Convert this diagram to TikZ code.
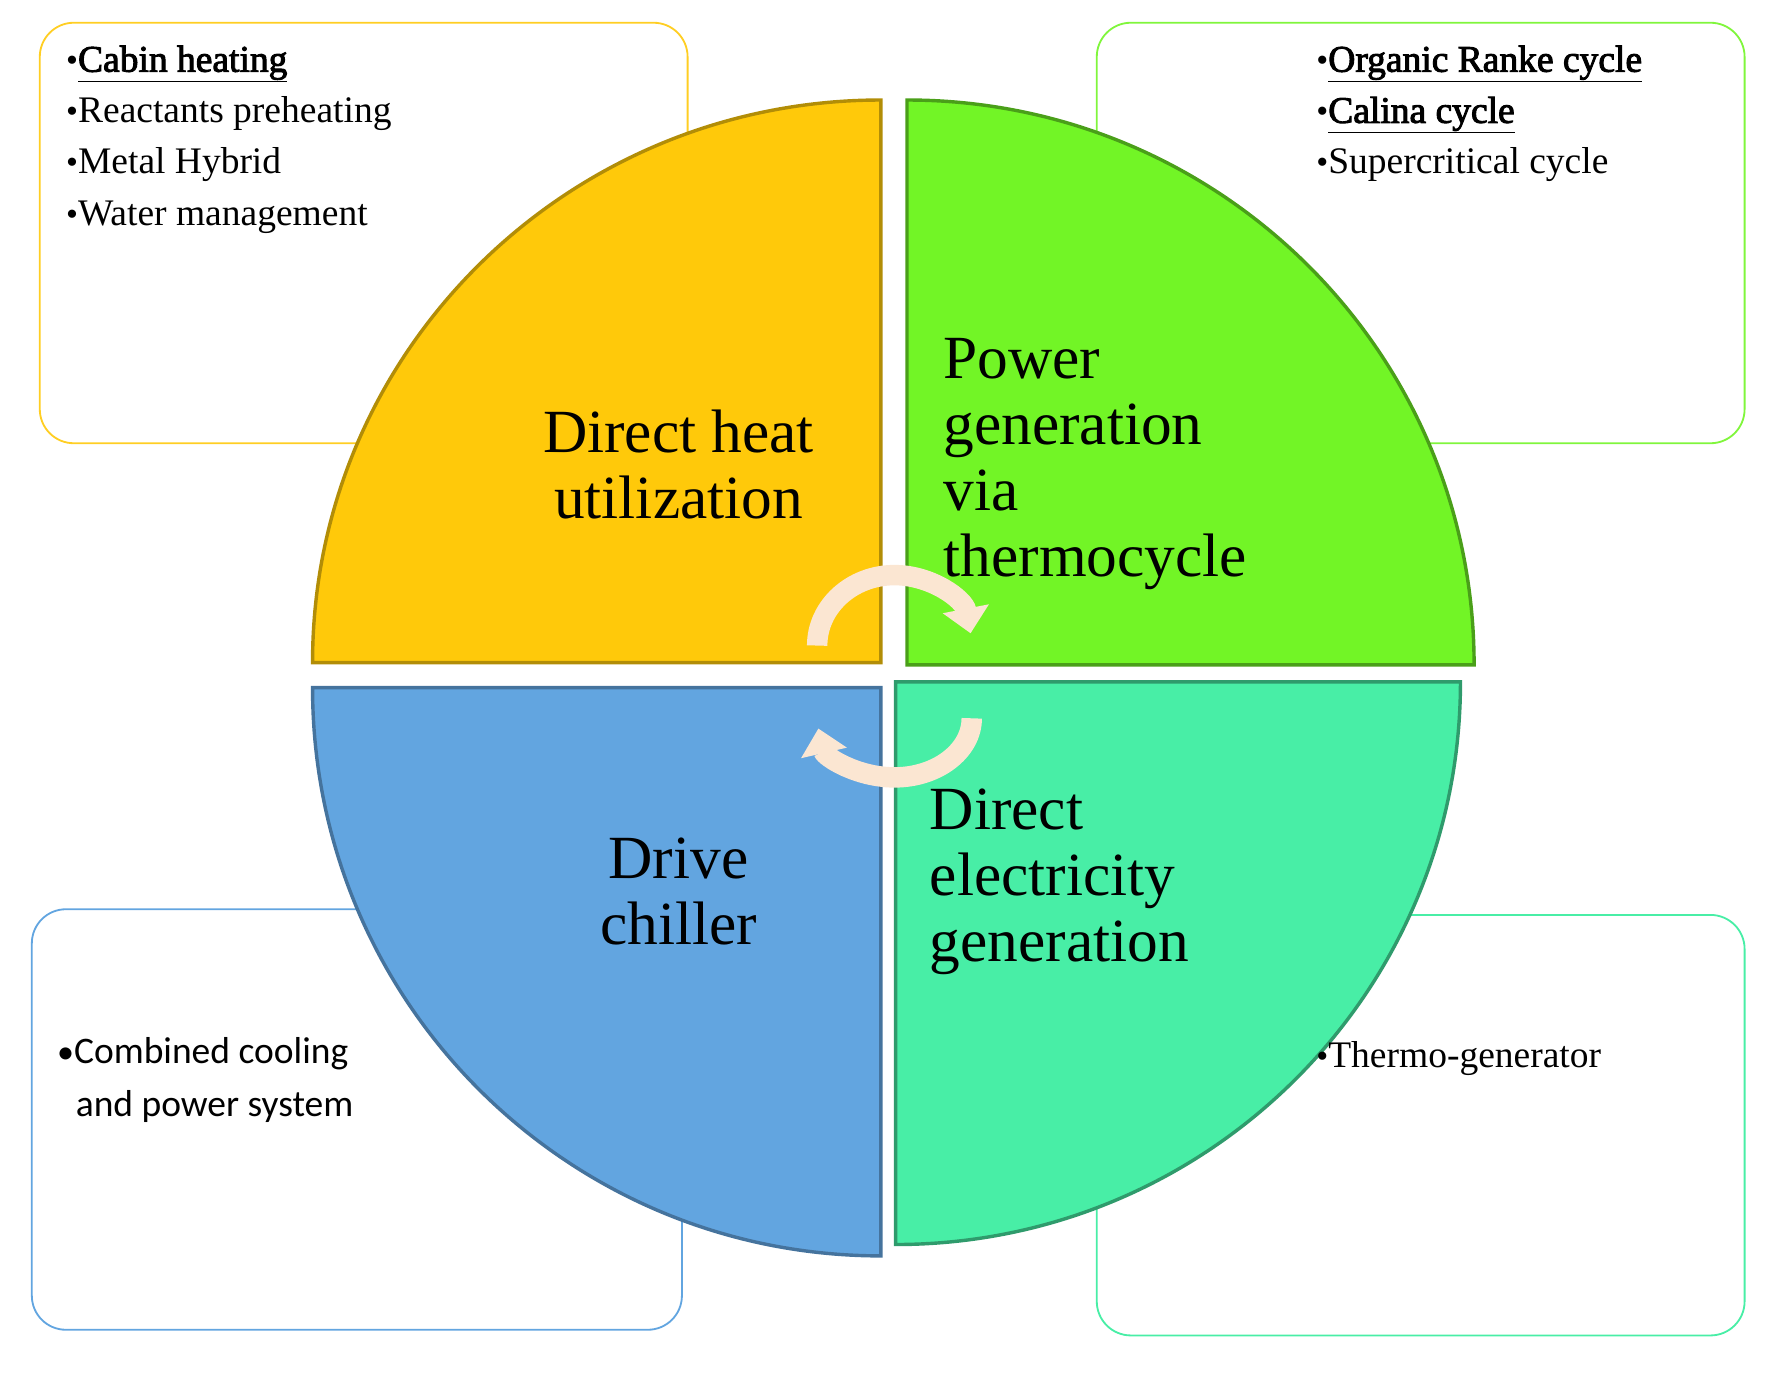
\documentclass[tikz,border=0pt]{standalone}
\usepackage{fontspec}
\setmainfont{Liberation Serif}
\newfontfamily\serfb{Liberation Serif}[FakeBold=2.5]
\newfontfamily\cbr{Carlito}
\usetikzlibrary{arrows.meta}
\definecolor{cY}{HTML}{FFC90A}
\definecolor{cG}{HTML}{72F526}
\definecolor{cB}{HTML}{62A5E0}
\definecolor{cT}{HTML}{48EEA6}
\definecolor{cA}{HTML}{FBE6D2}
\newcommand{\bul}{{\fontsize{30}{30}\selectfont\textbullet}}
\newcommand{\bu}[1]{\underline{{\serfb #1}}}
\tikzset{
 infobox/.style={rounded corners=30pt, line width=1.6pt, fill=white},
 big/.style={font=\fontsize{54}{58}\selectfont, align=left, inner sep=0pt},
 small/.style={font=\fontsize{33}{45}\selectfont, align=left, inner sep=0pt, anchor=north west},
 quad/.style={line width=3pt},
 cyc/.style={line width=18pt, draw=cA, -{Triangle[length=22pt,width=40pt]}}
}
\begin{document}
\begin{tikzpicture}[x=1pt,y=-1pt]
\useasboundingbox (0,0) rectangle (1560,1209);
% boxes
\draw[infobox, draw=cY!90] (35,20) rectangle (605,390);
\draw[infobox, draw=cG!90] (965,20) rectangle (1535,390);
\draw[infobox, draw=cB] (28,800) rectangle (600,1170);
\draw[infobox, draw=cT] (965,805) rectangle (1535,1175);
% quadrants
\fill[quad, fill=cY, draw=cY!70!black] (775,583) -- (275,583) arc[start angle=180, end angle=90, x radius=500, y radius=-495] -- cycle;
\fill[quad, fill=cG, draw=cG!65!black] (798,585) -- (798,88) arc[start angle=90, end angle=0, x radius=499, y radius=-497] -- cycle;
\fill[quad, fill=cB, draw=cB!70!black] (775,605) -- (275,605) arc[start angle=180, end angle=270, x radius=500, y radius=-500] -- cycle;
\fill[quad, fill=cT, draw=cT!65!black] (788,600) -- (1285,600) arc[start angle=0, end angle=-90, x radius=497, y radius=-495] -- cycle;
% cycle arrows
\coordinate (s1) at (719,568);
\draw[cyc] (s1) arc[start angle=180, end angle=10, x radius=68, y radius=-62];
\coordinate (s2) at (855,632);
\draw[cyc] (s2) arc[start angle=0, end angle=-170, x radius=68, y radius=-52];
% big labels
\node[big, align=center] (dh) at (597,409) {Direct heat\\utilization};
\node[big, anchor=west] (pg) at (830,408) {Power\\generation\\via\\thermocycle};
\node[big, align=center] (dc) at (597,784) {Drive\\chiller};
\node[big, anchor=west] (de) at (818,776) {Direct\\electricity\\generation};
% small texts
\node[small] (tl) at (58,40) {\bul\bu{Cabin heating}\\\bul Reactants preheating\\\bul Metal Hybrid\\\bul Water management};
\node[small] (tr) at (1158,40) {\bul\bu{Organic Ranke cycle}\\\bul\bu{Calina cycle}\\\bul Supercritical cycle};
\node[small, font=\cbr\fontsize{33}{46}\selectfont] (bl) at (50,913) {\bul Combined cooling\\\hspace*{0.5em}and power system};
\node[small] (br) at (1158,916) {\bul Thermo-generator};
\end{tikzpicture}
\end{document}
